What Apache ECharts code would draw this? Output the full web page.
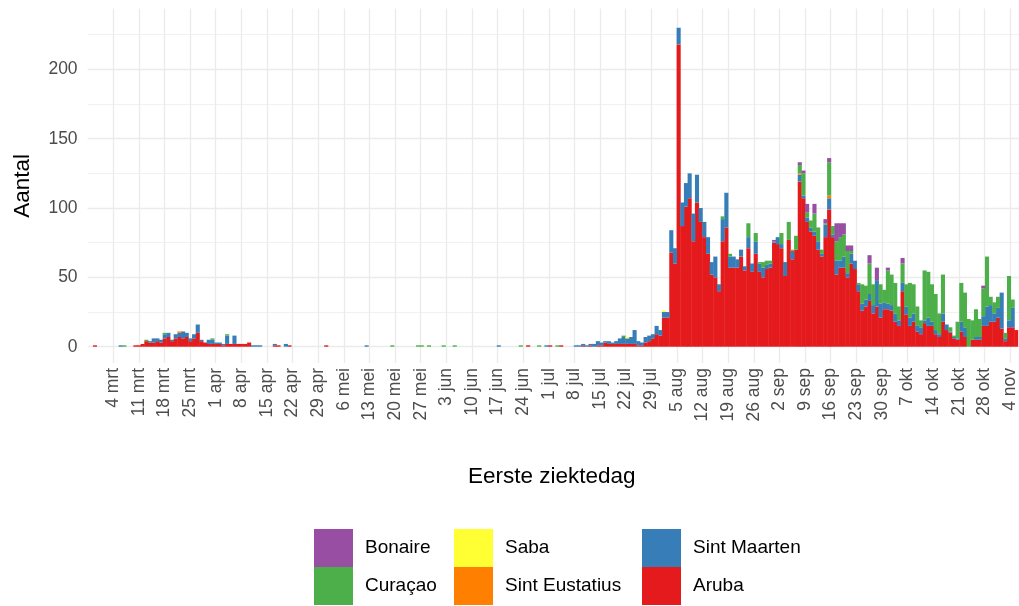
<!DOCTYPE html>
<html><head><meta charset="utf-8">
<script src="https://cdn.jsdelivr.net/npm/echarts@6/dist/echarts.min.js"></script>
<style>html,body{margin:0;padding:0;background:#fff;overflow:hidden}#c{width:1019px;height:606px}</style>
</head><body><div id="c"></div>
<script>
// Day numbers are counted from 4 mrt 2020 (= 0); first value is 26 feb (= -7).
const firstDay = -7;
const tickLabels = ['4 mrt','11 mrt','18 mrt','25 mrt','1 apr','8 apr','15 apr','22 apr','29 apr','6 mei','13 mei','20 mei','27 mei','3 jun','10 jun','17 jun','24 jun','1 jul','8 jul','15 jul','22 jul','29 jul','5 aug','12 aug','19 aug','26 aug','2 sep','9 sep','16 sep','23 sep','30 sep','7 okt','14 okt','21 okt','28 okt','4 nov'];
const seriesNames = ['Aruba','Sint Maarten','Sint Eustatius','Saba','Curaçao','Bonaire'];
const seriesColors = ['#E41A1C','#377EB8','#FF7F00','#FFFF33','#4DAF4A','#984EA3'];

// one row per week (wed..tue)
const aruba = [
[0,0,1,0,0,0,0],[0,0,0,0,0,0,1],[1,2,4,3,3,4,3],[6,7,4,6,7,6,7],[4,6,10,4,3,2,2],
[2,2,1,2,2,2,2],[2,2,3,0,0,0,0],[0,0,1,1,0,0,1],[0,0,0,0,0,0,0],[0,0,1,0,0,0,0],
[0,0,0,0,0,0,0],[0,0,0,0,0,0,0],[0,0,0,0,0,0,0],[0,0,0,0,0,0,0],[0,0,0,0,0,0,0],
[0,0,0,0,0,0,0],[0,0,0,0,0,0,0],[0,1,0,0,0,0,0],[1,0,0,1,0,0,0],[0,0,1,0,1,0,1],
[1,3,2,2,2,2,2],[2,2,2,1,1,3,4],[6,9,8,21,21,68,60],[218,87,101,107,76,104,90],[79,67,52,50,40,76,86],
[57,57,57,65,55,71,54],[67,54,50,56,57,75,74],[71,51,77,63,70,119,107],[90,83,80,70,65,79,99],[79,52,57,57,50,60,56],
[40,26,29,33,24,29,21],[27,27,26,18,15,40,23],[15,18,11,9,17,15,15],[9,7,18,12,10,6,5],[11,7,0,5,5,5,15],
[15,18,18,21,13,4,14],[14,12]
].flat();
const sintMaarten = [
[0,0,0,0,0,0,0],[0,0,1,0,0,0,0],[0,0,0,1,3,2,2],[3,3,1,3,3,5,3],[2,3,6,1,0,3,3],
[1,1,1,6,0,6,0],[0,0,0,1,1,1,0],[0,0,1,0,0,2,0],[0,0,0,0,0,0,0],[0,0,0,0,0,0,0],
[0,0,0,0,0,0,1],[0,0,0,0,0,0,0],[0,0,0,0,0,0,0],[0,0,0,0,0,0,0],[0,0,0,0,0,0,0],
[0,0,0,0,0,0,0],[1,0,0,0,0,0,0],[0,0,0,0,0,0,1],[0,0,0,0,0,0,0],[1,1,1,1,1,2,3],
[2,1,2,1,2,4,5],[4,5,10,3,2,4,4],[3,6,4,4,4,16,11],[12,17,17,18,20,20,10],[11,12,9,15,5,16,25],
[8,8,6,5,3,8,6],[9,6,7,3,3,1,5],[3,10,0,6,0,5,2],[3,3,3,6,2,9,8],[2,10,5,8,3,7,6],
[5,5,5,5,6,19,10],[5,4,4,6,4,6,6],[6,6,4,5,2,6,3],[3,2,6,4,1,1,1],[7,7,0,0,2,2,7],
[14,12,6,7,26,2,5],[14,0]
].flat();
const sintEustatius = [
[0,0,0,0,0,0,0],[0,0,0,0,0,0,0],[0,0,0,0,0,0,0],[0,0,0,0,1,0,0],[0,0,0,0,0,0,0],
[0,0,0,0,0,0,0],[0,0,0,0,0,0,0],[0,0,0,0,0,0,0],[0,0,0,0,0,0,0],[0,0,0,0,0,0,0],
[0,0,0,0,0,0,0],[0,0,0,0,0,0,0],[0,0,0,0,0,0,0],[0,0,0,0,0,0,0],[0,0,0,0,0,0,0],
[0,0,0,0,0,0,0],[0,0,0,0,0,0,0],[0,0,0,0,0,0,0],[0,0,0,0,0,0,0],[0,0,0,0,0,0,0],
[0,0,0,0,0,0,0],[0,0,0,0,0,0,0],[0,0,0,0,0,0,0],[0,0,0,0,0,0,0],[0,0,0,0,0,0,0],
[0,0,0,0,0,0,0],[0,0,0,0,0,0,0],[0,0,0,1,0,1,0],[0,0,0,0,0,0,2],[0,0,0,0,0,0,0],
[0,0,0,0,0,0,0],[0,0,0,0,0,0,0],[0,0,0,0,0,0,0],[0,0,0,0,0,0,0],[0,0,0,0,0,0,0],
[0,0,0,0,0,0,0],[0,0]
].flat();
const saba = [
[0,0,0,0,0,0,0],[0,0,0,0,0,0,0],[0,0,0,0,0,0,0],[0,0,0,0,0,0,0],[0,0,0,0,0,0,0],
[0,0,0,0,0,0,0],[0,0,0,0,0,0,0],[0,0,0,0,0,0,0],[0,0,0,0,0,0,0],[0,0,0,0,0,0,0],
[0,0,0,0,0,0,0],[0,0,0,0,0,0,0],[0,0,0,0,0,0,0],[0,0,0,0,0,0,0],[0,0,0,0,0,0,0],
[0,0,0,0,0,0,0],[0,0,0,0,0,0,0],[0,0,0,0,0,0,0],[0,0,0,0,0,0,0],[0,0,0,0,0,0,0],
[0,0,0,0,0,0,0],[1,0,0,0,0,0,0],[0,0,0,1,0,0,0],[0,0,0,0,0,0,0],[0,0,0,0,0,0,0],
[0,0,0,0,0,0,0],[0,0,0,0,0,0,0],[0,0,0,0,0,0,0],[0,0,0,0,0,0,0],[0,0,0,0,0,0,0],
[0,0,0,0,0,0,0],[0,0,0,0,0,0,0],[0,0,0,0,0,0,0],[0,0,0,0,0,0,0],[0,0,0,0,0,0,0],
[0,0,0,0,0,0,0],[0,0]
].flat();
const curacao = [
[0,0,0,0,0,0,0],[0,0,0,1,0,0,0],[0,0,1,0,0,0,0],[1,0,0,0,0,0,0],[0,0,0,0,0,0,1],
[0,0,0,1,0,0,0],[0,0,0,0,0,0,0],[0,0,0,0,0,0,0],[0,0,0,0,0,0,0],[0,0,0,0,0,0,0],
[0,0,0,0,0,0,0],[0,0,0,0,0,0,1],[0,0,0,0,0,0,1],[1,0,1,0,0,0,1],[0,0,1,0,0,0,0],
[0,0,0,0,0,0,0],[0,0,0,0,0,0,1],[0,0,0,0,1,0,0],[0,0,1,0,0,0,0],[0,0,0,0,0,0,0],
[0,0,0,0,0,0,1],[0,0,0,0,0,0,0],[0,0,0,0,0,0,0],[0,0,0,0,0,0,0],[0,0,0,0,0,2,0],
[2,0,0,0,0,10,0],[6,1,4,3,2,0,0],[8,0,13,0,10,6,16],[4,5,13,10,3,1,24],[6,14,17,16,16,2,0],
[1,14,10,22,15,0,14],[9,24,22,22,10,14,16],[25,21,14,5,36,33,27],[26,15,28,0,3,1,12],[28,25,20,14,20,13,20],
[36,6,8,8,0,4,32],[6,0]
].flat();
const bonaire = [
[0,0,0,0,0,0,0],[0,0,0,0,0,0,0],[0,0,0,0,0,0,0],[0,0,0,0,0,0,0],[0,0,0,0,0,0,0],
[0,0,0,0,0,0,0],[0,0,0,0,0,0,0],[0,0,0,0,0,0,0],[0,0,0,0,0,0,0],[0,0,0,0,0,0,0],
[0,0,0,0,0,0,0],[0,0,0,0,0,0,0],[0,0,0,0,0,0,0],[0,0,0,0,0,0,0],[0,0,0,0,0,0,0],
[0,0,0,0,0,0,0],[0,0,0,0,0,0,0],[0,0,0,0,0,0,0],[0,0,0,0,0,0,0],[0,0,0,0,0,0,0],
[0,0,0,0,0,0,0],[0,0,0,0,0,0,0],[0,0,0,0,0,0,0],[0,0,0,0,0,0,0],[0,0,0,0,0,0,0],
[0,0,0,0,0,0,0],[0,0,0,0,0,1,0],[0,0,0,0,0,2,2],[6,0,7,0,0,3,3],[0,13,10,8,4,4,0],
[0,0,0,6,0,9,0],[0,2,0,0,0,4,0],[0,0,0,0,0,0,0],[0,0,0,0,0,0,0],[0,0,0,0,0,0,2],
[0,0,0,0,0,0,0],[0,0]
].flat();
const seriesValues = [aruba, sintMaarten, sintEustatius, saba, curacao, bonaire];
const days = aruba.map((_, i) => firstDay + i);

const FONT = '"Liberation Sans", Arial, Helvetica, sans-serif';
const X_MIN = -7, X_MAX = 246.6;

const chart = echarts.init(document.getElementById('c'), null, {renderer: 'canvas'});

const legendPos = {
  'Bonaire': [314, 529], 'Curaçao': [314, 567],
  'Saba': [454, 529], 'Sint Eustatius': [454, 567],
  'Sint Maarten': [642, 529], 'Aruba': [642, 567]
};
const legends = Object.keys(legendPos).map(n => ({
  data: [n], left: legendPos[n][0], top: legendPos[n][1], padding: 0,
  icon: 'rect', itemWidth: 39, itemHeight: 38, selectedMode: false,
  textStyle: {fontFamily: FONT, fontSize: 19, color: '#000', padding: [0, 0, 0, 7]}
}));

const series = seriesNames.map((name, k) => ({
  name, type: 'bar', stack: 'total', xAxisIndex: 0, yAxisIndex: 0,
  barWidth: '112%',
  itemStyle: {color: seriesColors[k]},
  emphasis: {disabled: true},
  data: seriesValues[k]
}));

chart.setOption({
  animation: false,
  backgroundColor: '#fff',
  textStyle: {fontFamily: FONT},
  legend: legends,
  grid: [
    {left: 85.8, right: 0.8, top: -3.3, bottom: 259.3},
    {left: 87.6, right: 0, top: 8.6, bottom: 243},
    {left: 87.6, right: 0, top: -3.3, bottom: 259.3}
  ],
  xAxis: [
    {gridIndex: 0, type: 'category', data: days, show: false},
    {gridIndex: 1, type: 'value', min: X_MIN, max: X_MAX, interval: 7,
     axisLine: {show: false}, axisTick: {show: false},
     axisLabel: {rotate: 90, margin: 5, color: '#4d4d4d', fontSize: 17.5, fontFamily: FONT,
       formatter: v => {
         const k = v / 7;
         if (v < 0 || Math.abs(k - Math.round(k)) > 1e-6) return '';
         return tickLabels[Math.round(k)] || '';
       }},
     splitLine: {show: true, showMinLine: false, showMaxLine: false, lineStyle: {color: '#ebebeb', width: 1.3}},
     name: 'Eerste ziektedag', nameLocation: 'middle', nameGap: 102,
     nameTextStyle: {fontFamily: FONT, fontSize: 22.5, color: '#000'}},
    {gridIndex: 2, type: 'value', min: X_MIN, max: X_MAX, show: false}
  ],
  yAxis: [
    {gridIndex: 0, type: 'value', min: 0, max: 250, interval: 50, show: false},
    {gridIndex: 1, type: 'value', min: 0, max: 1,
     axisLine: {show: false}, axisTick: {show: false}, axisLabel: {show: false}, splitLine: {show: false},
     name: 'Aantal', nameLocation: 'middle', nameGap: 53,
     nameTextStyle: {fontFamily: FONT, fontSize: 22.5, color: '#000'}},
    {gridIndex: 2, type: 'value', min: 0, max: 250, interval: 50,
     axisLine: {show: false}, axisTick: {show: false},
     axisLabel: {color: '#4d4d4d', fontSize: 17.5, fontFamily: FONT, margin: 10, showMaxLabel: false},
     splitLine: {show: true, showMaxLine: false, lineStyle: {color: '#ebebeb', width: 1.3}},
     minorTick: {show: false, splitNumber: 2},
     minorSplitLine: {show: true, lineStyle: {color: '#ebebeb', width: 0.7}}}
  ],
  series
});
</script>
</body></html>
